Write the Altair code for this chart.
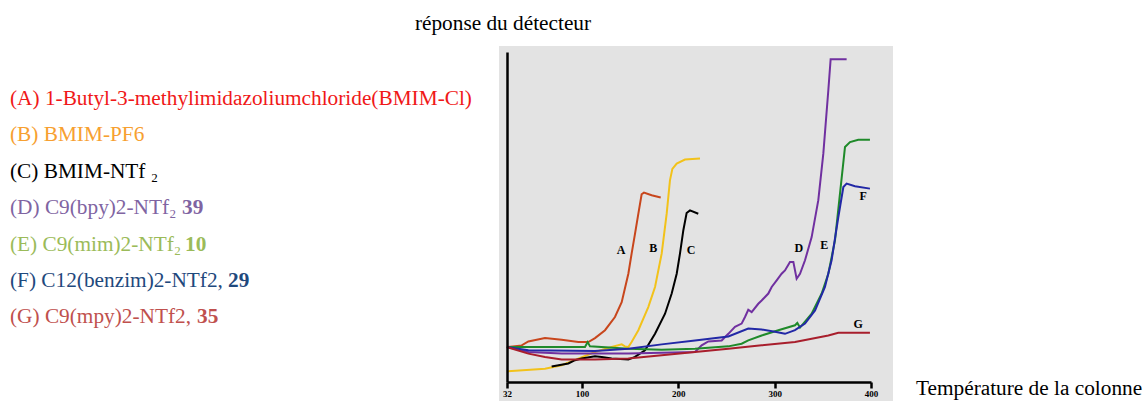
import altair as alt
import pandas as pd

# ---- data: temperature (°C) and detector response (0-100) ----
A_T = [22.1, 37.4, 44.3, 61.6, 78.9, 96.2, 106.6, 113.5, 123.9, 134.2, 141.2, 148.1, 151.5, 155.0, 158.5, 161.9, 164.3, 172.3, 181.7]
A_V = [10.6, 11.1, 12.3, 13.3, 12.8, 12.1, 12.1, 13.3, 15.7, 19.7, 24.2, 32.8, 38.9, 44.9, 51.0, 56.9, 57.4, 56.6, 55.9]

B_T = [22.1, 61.6, 78.9, 96.2, 113.5, 130.8, 141.2, 144.6, 148.1, 151.5, 158.5, 168.8, 175.8, 182.7, 187.9, 191.3, 193.8, 198.3, 206.9, 222.5]
B_V = [3.2, 4.0, 5.1, 7.1, 9.1, 10.6, 11.4, 10.8, 10.6, 12.1, 15.7, 22.7, 28.8, 38.9, 51.0, 61.1, 64.6, 66.2, 67.4, 67.7]

C_T = [68.5, 85.8, 92.7, 99.6, 113.5, 120.4, 130.8, 148.1, 155.0, 165.4, 175.8, 186.2, 193.1, 198.3, 201.7, 205.2, 208.6, 212.1, 220.7]
C_V = [4.7, 5.6, 6.6, 7.1, 7.8, 7.6, 7.1, 6.8, 7.6, 9.6, 14.6, 20.7, 26.8, 32.8, 38.9, 46.0, 51.2, 52.0, 51.0]

D_T = [22.1, 44.3, 78.9, 148.1, 217.3, 224.2, 231.1, 245.0, 251.9, 258.8, 265.7, 269.2, 272.6, 276.1, 283.0, 286.5, 293.4, 296.9, 302.1, 307.2, 310.7, 315.9, 319.4, 322.8, 326.3, 331.5, 338.4, 345.3, 350.5, 355.7, 358.1, 374.7]
D_V = [10.6, 9.1, 8.6, 8.6, 9.1, 11.1, 12.3, 12.6, 14.6, 16.7, 17.7, 19.7, 21.9, 21.2, 23.7, 24.7, 26.8, 28.8, 30.8, 32.8, 33.8, 36.4, 36.4, 31.3, 32.8, 36.9, 43.9, 55.1, 69.2, 88.4, 97.8, 97.8]

E_T = [22.1, 103.1, 105.9, 108.3, 148.1, 182.7, 217.3, 251.9, 265.7, 272.6, 286.5, 303.8, 321.1, 323.5, 326.3, 338.4, 348.8, 355.7, 362.6, 367.8, 373.0, 378.2, 386.8, 398.9]
E_V = [10.6, 10.6, 12.1, 10.8, 10.1, 9.8, 10.1, 10.8, 11.6, 12.6, 14.1, 15.7, 17.2, 17.9, 16.5, 20.7, 26.8, 32.8, 42.9, 57.1, 71.2, 72.7, 73.4, 73.4]

F_T = [22.1, 44.3, 113.5, 148.1, 182.7, 217.3, 251.9, 272.6, 286.5, 300.3, 310.7, 321.1, 331.5, 341.9, 352.2, 359.1, 366.1, 371.3, 374.7, 383.4, 398.9]
F_V = [10.6, 9.6, 9.4, 10.1, 11.4, 12.6, 13.8, 16.2, 15.9, 15.2, 14.6, 15.7, 17.7, 21.7, 28.8, 36.9, 50.0, 59.1, 60.1, 59.3, 58.6]

G_T = [22.1, 44.3, 61.6, 78.9, 113.5, 148.1, 182.7, 217.3, 251.9, 286.5, 321.1, 338.4, 355.7, 366.1, 374.7, 398.9]
G_V = [10.6, 8.6, 7.6, 6.8, 6.8, 7.1, 8.1, 9.1, 10.1, 11.1, 12.1, 13.1, 14.1, 14.9, 14.9, 14.9]

CURVES = ["A", "B", "C", "D", "E", "F", "G"]
CURVE_COLORS = ["#c8461c", "#f2c21a", "#000000", "#7030a0", "#1f8a2a", "#2228a6", "#a81e2c"]

LABEL_T = [140.5, 174.0, 213.1, 325.2, 351.5, 392.0, 386.8]
LABEL_V = [39.9, 40.7, 39.9, 40.7, 41.4, 56.3, 17.7]

X_TICKS = [22.14, 100, 200, 300, 400]
X_TICK_LABELS = ["32", "100", "200", "300", "400"]

LEGEND_TEXT = [
    "(A) 1-Butyl-3-methylimidazoliumchloride(BMIM-Cl)",
    "(B) BMIM-PF6",
    "(C)  BMIM-NTf \u2082",
    "(D) C9(bpy)2-NTf\u2082",
    "(E) C9(mim)2-NTf\u2082",
    "(F) C12(benzim)2-NTf2,",
    "(G) C9(mpy)2-NTf2,",
]
LEGEND_BOLD = ["", "", "", "39", "10", "29", "35"]
LEGEND_COLORS = ["#f01818", "#f7a030", "#000000", "#8064a2", "#9bbb59", "#1f497d", "#c0504d"]

Y_TITLE = "réponse du détecteur"
X_TITLE = "Température de la colonne"

# ---- build tables ----
series = {"A": (A_T, A_V), "B": (B_T, B_V), "C": (C_T, C_V), "D": (D_T, D_V),
          "E": (E_T, E_V), "F": (F_T, F_V), "G": (G_T, G_V)}
rows = []
for name, (ts, vs) in series.items():
    for i, (t, v) in enumerate(zip(ts, vs)):
        rows.append({"curve": name, "T": t, "V": v, "idx": i})
df = pd.DataFrame(rows)
labels_df = pd.DataFrame({"curve": CURVES, "T": LABEL_T, "V": LABEL_V})

W, H = 364, 330
FONT = "Liberation Serif"
FS = 21.3

xscale = alt.Scale(domain=[22.14, 400], nice=False, zero=False)
yscale = alt.Scale(domain=[0, 100], nice=False, zero=False)

label_expr = "datum.value < 50 ? '32' : datum.label"

background = alt.Chart(alt.Data(values=[{}])).mark_rect(color="#e3e3e3").encode(
    x=alt.value(-8), x2=alt.value(386), y=alt.value(-6), y2=alt.value(360)
)

lines = alt.Chart(df).mark_line(strokeWidth=2, clip=False).encode(
    x=alt.X("T:Q", scale=xscale, title=None,
            axis=alt.Axis(values=X_TICKS, labelExpr=label_expr, grid=False, zindex=1,
                          domainColor="#000000", domainWidth=2.5,
                          tickColor="#000000", tickWidth=2.5, tickSize=6,
                          labelFont=FONT, labelFontSize=9, labelFontWeight="bold",
                          labelColor="#000000", labelPadding=1, labelFlush=False)),
    y=alt.Y("V:Q", scale=yscale, title=None,
            axis=alt.Axis(grid=False, ticks=False, labels=False, zindex=1,
                          domainColor="#000000", domainWidth=2.5)),
    color=alt.Color("curve:N", scale=alt.Scale(domain=CURVES, range=CURVE_COLORS), legend=None),
    order=alt.Order("idx:Q"),
    detail="curve:N",
)

curve_labels = alt.Chart(labels_df).mark_text(
    font=FONT, fontSize=12, fontWeight="bold", color="#000000"
).encode(
    x=alt.X("T:Q", scale=xscale),
    y=alt.Y("V:Q", scale=yscale),
    text="curve:N",
)

layers = [background, lines, curve_labels]

# titles
layers.append(alt.Chart(alt.Data(values=[{}])).mark_text(
    font=FONT, fontSize=FS, align="center", baseline="alphabetic", color="#000000"
).encode(x=alt.value(-4), y=alt.value(-22), text=alt.value(Y_TITLE)))
layers.append(alt.Chart(alt.Data(values=[{}])).mark_text(
    font=FONT, fontSize=FS, align="left", baseline="alphabetic", color="#000000"
).encode(x=alt.value(409), y=alt.value(343), text=alt.value(X_TITLE)))

# legend lines on the left
LEG_X = -497
LEG_Y0 = 53
LEG_DY = 36.4
BOLD_X = [0, 0, 0, -325, -322, -279, -310]
for i, (txt, col) in enumerate(zip(LEGEND_TEXT, LEGEND_COLORS)):
    y = LEG_Y0 + i * LEG_DY
    layers.append(alt.Chart(alt.Data(values=[{}])).mark_text(
        font=FONT, fontSize=FS, align="left", baseline="alphabetic", color=col
    ).encode(x=alt.value(LEG_X), y=alt.value(y), text=alt.value(txt)))
    if LEGEND_BOLD[i]:
        layers.append(alt.Chart(alt.Data(values=[{}])).mark_text(
            font=FONT, fontSize=FS, fontWeight="bold", align="left",
            baseline="alphabetic", color=col
        ).encode(x=alt.value(BOLD_X[i]), y=alt.value(y), text=alt.value(LEGEND_BOLD[i])))

chart = alt.layer(*layers).properties(
    width=W, height=H,
    autosize=alt.AutoSizeParams(type="none"),
    padding={"left": 507, "top": 52, "right": 273, "bottom": 19},
    background="#ffffff",
).configure_view(strokeWidth=0)

chart.save("out.html", embed_options={"renderer": "svg", "actions": False})
